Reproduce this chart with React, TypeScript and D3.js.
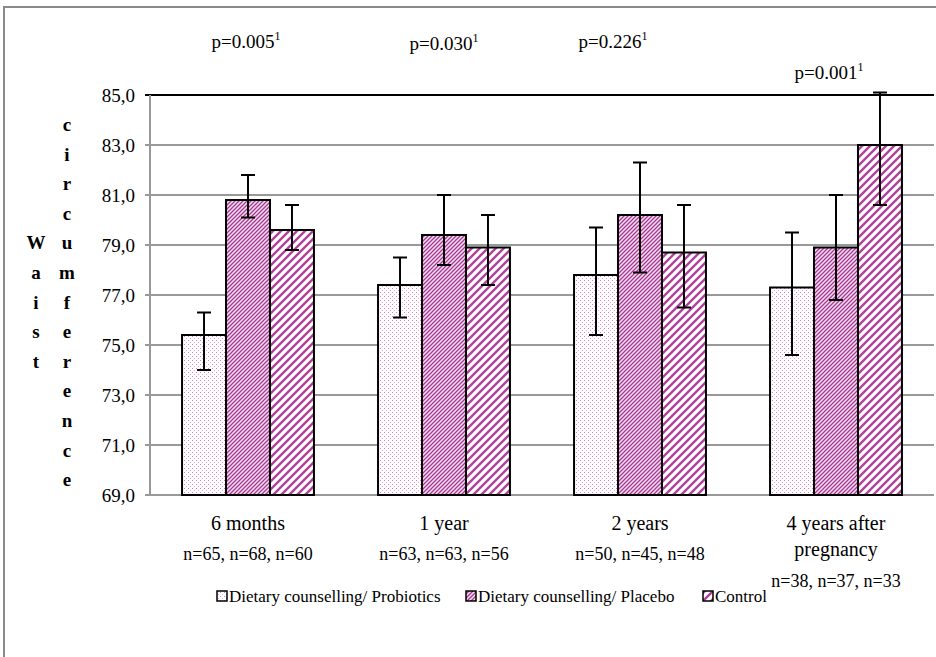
import React from "react";
import * as d3 from "d3";

// Data
const categories = ["6 months", "1 year", "2 years", "4 years after pregnancy"];
const categoryLines = [["6 months"], ["1 year"], ["2 years"], ["4 years after", "pregnancy"]];
const sampleSizes = ["n=65, n=68, n=60", "n=63, n=63, n=56", "n=50, n=45, n=48", "n=38, n=37, n=33"];
const pValues = ["p=0.005", "p=0.030", "p=0.226", "p=0.001"];
const seriesNames = ["Dietary counselling/ Probiotics", "Dietary counselling/ Placebo", "Control"];

const probiotics = [75.4, 77.4, 77.8, 77.3];
const probioticsLow = [74.0, 76.1, 75.4, 74.6];
const probioticsHigh = [76.3, 78.5, 79.7, 79.5];

const placebo = [80.8, 79.4, 80.2, 78.9];
const placeboLow = [80.1, 78.2, 77.9, 76.8];
const placeboHigh = [81.8, 81.0, 82.3, 81.0];

const control = [79.6, 78.9, 78.7, 83.0];
const controlLow = [78.8, 77.4, 76.5, 80.6];
const controlHigh = [80.6, 80.2, 80.6, 85.1];

const yTicks = [69, 71, 73, 75, 77, 79, 81, 83, 85];
const yTitleLeft = "Waist";
const yTitleRight = "circumference";

// Layout
const W = 936;
const H = 657;
const plot = { left: 150, right: 934, top: 95, bottom: 495 };
const pPos = [
  { dx: -2, y: 48 },
  { dx: 0, y: 50 },
  { dx: -27, y: 48 },
  { dx: -7, y: 79 },
];
const legendX = [217, 466, 703];
const serif = '"Liberation Serif", "DejaVu Serif", "Times New Roman", serif';
const patternIds = ["pat-dots", "pat-fine", "pat-wide"];

const seriesData = [
  { values: probiotics, low: probioticsLow, high: probioticsHigh },
  { values: placebo, low: placeboLow, high: placeboHigh },
  { values: control, low: controlLow, high: controlHigh },
];

const T = (props: any) => <text fontFamily={serif} {...props} />;

export default function App() {
  const x = d3
    .scaleBand<string>()
    .domain(categories)
    .range([plot.left, plot.right])
    .paddingInner(0.327)
    .paddingOuter(0.1635);
  const xs = d3
    .scaleBand<string>()
    .domain(seriesNames)
    .range([0, x.bandwidth()])
    .padding(0);
  const y = d3.scaleLinear().domain([69, 85]).range([plot.bottom, plot.top]);

  const letterStep = 29.6;
  const letterTop = 131;

  return (
    <svg
      width={W}
      height={H}
      style={{ position: "absolute", left: 0, top: 0, background: "#fff" }}
    >
      <defs>
        <pattern id="pat-dots" width="4" height="4" patternUnits="userSpaceOnUse">
          <rect width="4" height="4" fill="#fff" />
          <rect x="0" y="0" width="1" height="1" fill="#e07cc2" />
          <rect x="2" y="2" width="1" height="1" fill="#e9a6d6" />
        </pattern>
        <pattern id="pat-fine" width="4" height="4" patternUnits="userSpaceOnUse">
          <rect width="4" height="4" fill="#f6e0f0" />
          <path d="M-1,1 l2,-2 M0,4 l4,-4 M3,5 l2,-2" stroke="#a83896" strokeWidth="1.3" />
        </pattern>
        <pattern id="pat-wide" width="8" height="8" patternUnits="userSpaceOnUse">
          <rect width="8" height="8" fill="#fff" />
          <path d="M-2,2 l4,-4 M0,8 l8,-8 M6,10 l4,-4" stroke="#b0429b" strokeWidth="2.4" />
        </pattern>
      </defs>

      {/* outer chart border */}
      <rect x={4} y={7} width={W + 10} height={H + 10} fill="none" stroke="#8a8a8a" strokeWidth={2} />

      {/* gridlines */}
      {yTicks.map((t) => (
        <g key={t}>
          <line
            x1={plot.left - 5}
            x2={plot.right}
            y1={y(t)}
            y2={y(t)}
            stroke={t === 85 ? "#000" : "#999"}
            strokeWidth={2}
          />
          <T x={135} y={y(t)} dy="0.36em" textAnchor="end" fontSize={19}>
            {t.toFixed(1).replace(".", ",")}
          </T>
        </g>
      ))}
      <line x1={plot.left} x2={plot.left} y1={plot.top} y2={plot.bottom} stroke="#999" strokeWidth={2} />

      {/* bars */}
      {seriesData.map((s, si) =>
        categories.map((c, ci) => {
          const bx = (x(c) ?? 0) + (xs(seriesNames[si]) ?? 0);
          const by = y(s.values[ci]);
          return (
            <rect
              key={`${si}-${ci}`}
              x={bx}
              y={by}
              width={xs.bandwidth()}
              height={y(69) - by}
              fill={`url(#${patternIds[si]})`}
              stroke="#000"
              strokeWidth={2}
            />
          );
        })
      )}

      {/* error bars */}
      {seriesData.map((s, si) =>
        categories.map((c, ci) => {
          const cx = (x(c) ?? 0) + (xs(seriesNames[si]) ?? 0) + xs.bandwidth() / 2;
          const yl = y(s.low[ci]);
          const yh = y(s.high[ci]);
          return (
            <g key={`e${si}-${ci}`} stroke="#000" strokeWidth={2}>
              <line x1={cx} x2={cx} y1={yh} y2={yl} />
              <line x1={cx - 7} x2={cx + 7} y1={yh} y2={yh} />
              <line x1={cx - 7} x2={cx + 7} y1={yl} y2={yl} />
            </g>
          );
        })
      )}

      {/* p-values */}
      {pValues.map((p, i) => (
        <T
          key={p}
          x={(x(categories[i]) ?? 0) + x.bandwidth() / 2 + pPos[i].dx}
          y={pPos[i].y}
          textAnchor="middle"
          fontSize={19}
        >
          {p}
          <tspan fontSize={12} dy={-8}>1</tspan>
        </T>
      ))}

      {/* category labels */}
      {categories.map((c, i) => {
        const cx = (x(c) ?? 0) + x.bandwidth() / 2;
        const lines = categoryLines[i];
        return (
          <g key={c}>
            {lines.map((l, li) => (
              <T key={l} x={cx} y={530 + li * 26} textAnchor="middle" fontSize={20}>
                {l}
              </T>
            ))}
            <T x={cx} y={560 + (lines.length - 1) * 27} textAnchor="middle" fontSize={18}>
              {sampleSizes[i]}
            </T>
          </g>
        );
      })}

      {/* y axis title, stacked letters */}
      {yTitleRight.split("").map((ch, i) => (
        <T
          key={`r${i}`}
          x={67}
          y={letterTop + i * letterStep}
          textAnchor="middle"
          fontSize={19}
          fontWeight="bold"
        >
          {ch}
        </T>
      ))}
      {yTitleLeft.split("").map((ch, i) => (
        <T
          key={`l${i}`}
          x={36}
          y={letterTop + (i + 4) * letterStep}
          textAnchor="middle"
          fontSize={19}
          fontWeight="bold"
        >
          {ch}
        </T>
      ))}

      {/* legend */}
      {seriesNames.map((n, i) => (
        <g key={n}>
          <rect
            x={legendX[i]}
            y={591}
            width={10}
            height={10}
            fill={`url(#${patternIds[i]})`}
            stroke="#000"
            strokeWidth={1.5}
          />
          <T x={legendX[i] + 12} y={602} fontSize={17}>
            {n}
          </T>
        </g>
      ))}
    </svg>
  );
}
